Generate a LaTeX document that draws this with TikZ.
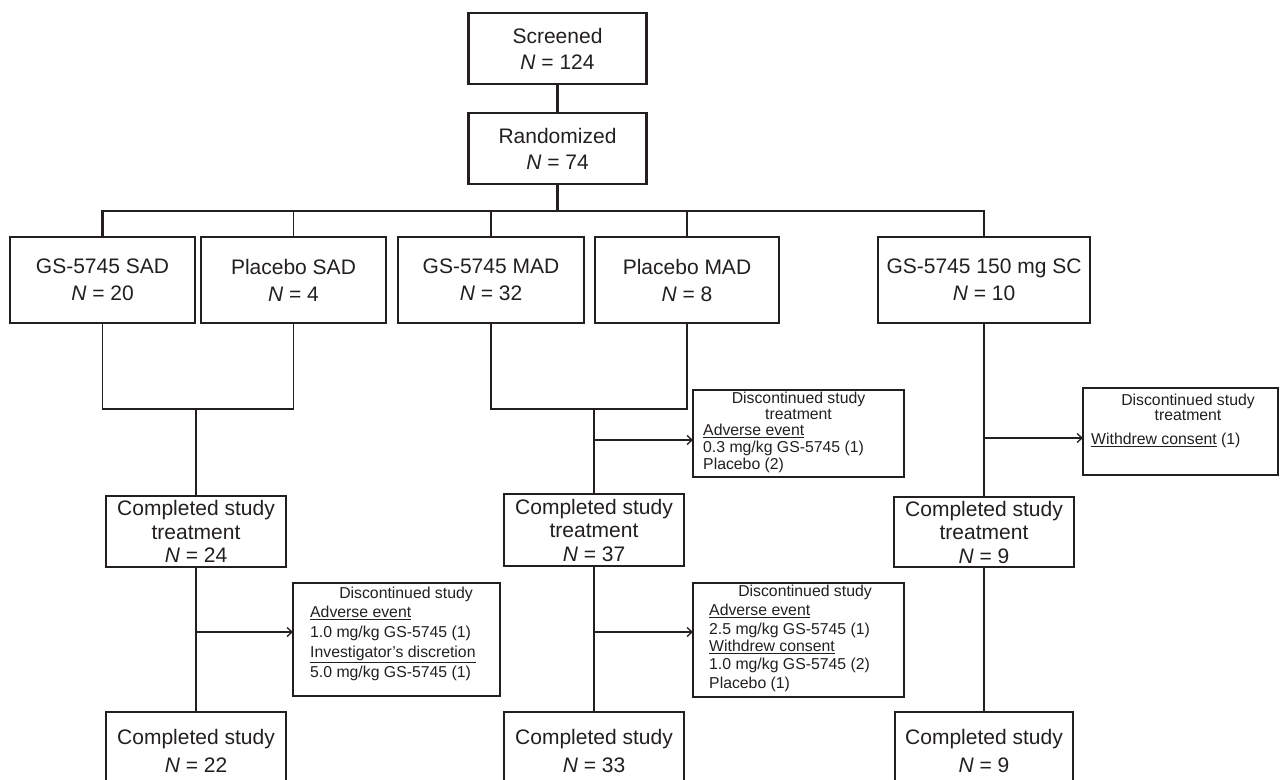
\documentclass[tikz,border=0pt]{standalone}
\usepackage{fontspec}
\setmainfont{Liberation Sans}
\usetikzlibrary{arrows.meta}
\definecolor{ink}{RGB}{35,31,32}
\begin{document}
\begin{tikzpicture}[x=1pt,y=-1pt,
  bigbox/.style={draw=ink, line width=2.6pt, rectangle, inner sep=0pt, outer sep=0pt,
    align=center, text=ink, font=\fontsize{21}{26}\selectfont},
  rowbox/.style={bigbox, font=\fontsize{21}{27}\selectfont},
  ctbox/.style={bigbox, line width=2.4pt, font=\fontsize{21}{23.5}\selectfont},
  csbox/.style={bigbox, line width=2.4pt, font=\fontsize{21}{28}\selectfont},
  discbox/.style={draw=ink, line width=2.2pt, rectangle, inner sep=0pt, outer sep=0pt},
  ttl/.style={anchor=mid, inner sep=0pt, text=ink, font=\fontsize{15.8}{16.5}\selectfont},
  itm/.style={anchor=mid west, inner sep=0pt, text=ink, font=\fontsize{15.8}{16.5}\selectfont},
  bus/.style={draw=ink, line width=2.4pt},
  drop/.style={draw=ink, line width=1.9pt},
  thin/.style={draw=ink, line width=1.3pt},
  arr/.style={thin, -{Straight Barb[length=5pt,width=9pt,line width=1.3pt]}}
]
\clip (0,0) rectangle (1281,779);
\fill[white] (0,0) rectangle (1281,779);

% top boxes
\node[bigbox, minimum width=178pt, minimum height=71pt] (scr) at (557.5,48.5) {Screened\\\textit{N} = 124};
\node[bigbox, minimum width=178pt, minimum height=71pt] (rnd) at (557.5,148.5) {Randomized\\\textit{N} = 74};

% arm boxes
\node[rowbox, minimum width=185pt, minimum height=86pt] (sad) at (102.5,280) {GS-5745 SAD\\\textit{N} = 20};
\node[rowbox, minimum width=185pt, minimum height=86pt] (psad) at (293.5,280) {Placebo SAD\\\textit{N} = 4};
\node[rowbox, minimum width=186pt, minimum height=86pt] (mad) at (491,280) {GS-5745 MAD\\\textit{N} = 32};
\node[rowbox, minimum width=184pt, minimum height=86pt] (pmad) at (687,280) {Placebo MAD\\\textit{N} = 8};
\node[rowbox, minimum width=212pt, minimum height=86pt] (sc) at (984,280) {GS-5745 150 mg SC\\\textit{N} = 10};

% completed study treatment
\node[ctbox, minimum width=180pt, minimum height=71pt] (ct1) at (196,531.5) {Completed study\\treatment\\\textit{N} = 24};
\node[ctbox, minimum width=180pt, minimum height=72pt] (ct2) at (594,530) {Completed study\\treatment\\\textit{N} = 37};
\node[ctbox, minimum width=180pt, minimum height=70pt] (ct3) at (984,532) {Completed study\\treatment\\\textit{N} = 9};

% completed study (cut by the lower edge)
\node[csbox, minimum width=180pt, minimum height=78pt] (cs1) at (196,751) {Completed study\\\textit{N} = 22};
\node[csbox, minimum width=180pt, minimum height=78pt] (cs2) at (594,751) {Completed study\\\textit{N} = 33};
\node[csbox, minimum width=178pt, minimum height=78pt] (cs3) at (984,751) {Completed study\\\textit{N} = 9};

% discontinued boxes
\node[discbox, minimum width=207pt, minimum height=113pt] (d1) at (396.5,639.5) {};
\node[ttl] (d1t) at (406,596) {Discontinued study};
\node[itm] (d1a) at (310,615) {\underline{Adverse event}};
\node[itm] (d1b) at (310,635) {1.0 mg/kg GS-5745 (1)};
\node[itm] (d1c) at (310,655) {\underline{Investigator’s discretion}};
\node[itm] (d1d) at (310,675) {5.0 mg/kg GS-5745 (1)};

\node[discbox, minimum width=211pt, minimum height=87pt] (d2) at (798.5,433.5) {};
\node[ttl] (d2t) at (798.5,401) {Discontinued study};
\node[ttl] (d2u) at (798.5,417) {treatment};
\node[itm] (d2a) at (703,433) {\underline{Adverse event}};
\node[itm] (d2b) at (703,450) {0.3 mg/kg GS-5745 (1)};
\node[itm] (d2c) at (703,467) {Placebo (2)};

\node[discbox, minimum width=211pt, minimum height=114pt] (d3) at (798.5,640) {};
\node[ttl] (d3t) at (805,594) {Discontinued study};
\node[itm] (d3a) at (709,613) {\underline{Adverse event}};
\node[itm] (d3b) at (709,632) {2.5 mg/kg GS-5745 (1)};
\node[itm] (d3c) at (709,649) {\underline{Withdrew consent}};
\node[itm] (d3d) at (709,667) {1.0 mg/kg GS-5745 (2)};
\node[itm] (d3e) at (709,686) {Placebo (1)};

\node[discbox, minimum width=195pt, minimum height=87pt] (d4) at (1180.5,431.5) {};
\node[ttl] (d4t) at (1188,403) {Discontinued study};
\node[ttl] (d4u) at (1188,418) {treatment};
\node[itm] (d4a) at (1091,442) {\underline{Withdrew consent} (1)};

% connectors
\draw[bus] (scr.south) -- (rnd.south |- scr.south) -- (rnd.north);
\coordinate (busc) at (557.5,211);
\draw[bus] (rnd.south) -- (busc);
\draw[bus] (sad.north) |- (busc) -| (sc.north);
\draw[drop] (psad.north) -- (psad.north |- busc);
\draw[drop] (mad.north) -- (mad.north |- busc);
\draw[drop] (pmad.north) -- (pmad.north |- busc);

\coordinate (j1) at (196,409);
\coordinate (j2) at (594,409);
\draw[thin] (sad.south) |- (j1) -| (psad.south);
\draw[thin] (mad.south) |- (j2) -| (pmad.south);
\draw[thin] (j1) -- (ct1.north);
\draw[thin] (j2) -- (ct2.north);
\draw[thin] (sc.south) -- (ct3.north);
\draw[thin] (ct1.south) -- (cs1.north);
\draw[thin] (ct2.south) -- (cs2.north);
\draw[thin] (ct3.south) -- (cs3.north);

\coordinate (a1) at (196,632);
\coordinate (a2) at (594,440);
\coordinate (a3) at (594,632);
\coordinate (a4) at (984,438);
\draw[arr] (a1) -- (a1 -| d1.west);
\draw[arr] (a2) -- (a2 -| d2.west);
\draw[arr] (a3) -- (a3 -| d3.west);
\draw[arr] (a4) -- (a4 -| d4.west);
\end{tikzpicture}
\end{document}
